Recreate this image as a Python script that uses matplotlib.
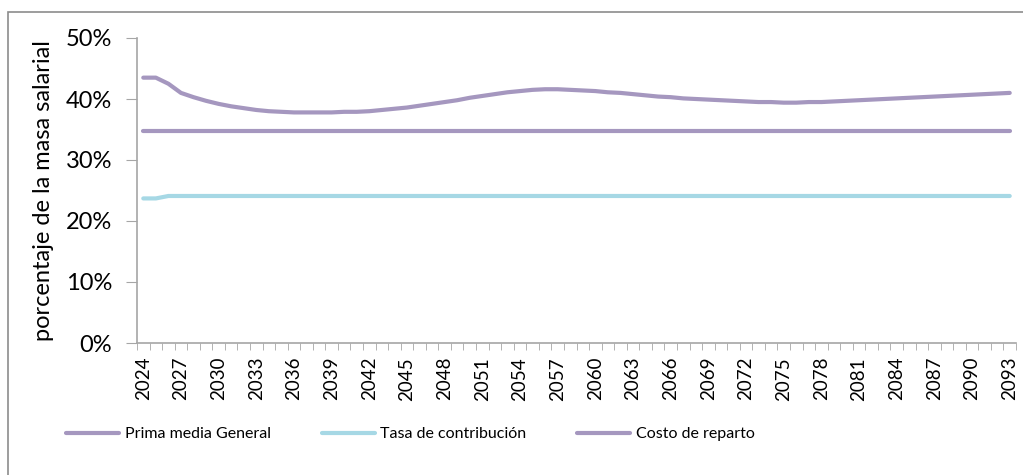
import numpy as np
import matplotlib.pyplot as plt
from matplotlib.patches import Rectangle

plt.rcParams['font.family'] = ['Lato', 'DejaVu Sans']

years = np.arange(2024, 2094)
prima_media = [34.7] * 70
tasa_contrib = [23.7, 23.7] + [24.1] * 68
costo_reparto = [43.5, 43.5, 42.5, 41.0, 40.3, 39.7, 39.2, 38.8, 38.5, 38.2,
                 38.0, 37.9, 37.8, 37.8, 37.8, 37.8, 37.9, 37.9, 38.0, 38.2,
                 38.4, 38.6, 38.9, 39.2, 39.5, 39.8, 40.2, 40.5, 40.8, 41.1,
                 41.3, 41.5, 41.6, 41.6, 41.5, 41.4, 41.3, 41.1, 41.0, 40.8,
                 40.6, 40.4, 40.3, 40.1, 40.0, 39.9, 39.8, 39.7, 39.6, 39.5,
                 39.5, 39.4, 39.4, 39.5, 39.5, 39.6, 39.7, 39.8, 39.9, 40.0,
                 40.1, 40.2, 40.3, 40.4, 40.5, 40.6, 40.7, 40.8, 40.9, 41.0]

purple = '#A597BF'
cyan = '#A6D8E5'
grey = '#A6A6A6'

fig = plt.figure(figsize=(10.23, 4.75), dpi=100)
# chart border
fig.patches.append(Rectangle((8 / 1023, -0.1), 1.2, 1 - 12 / 475 + 0.1,
                             transform=fig.transFigure, fill=False,
                             edgecolor='#8C8C8C', linewidth=1.2))

ax = fig.add_axes([137 / 1023, 1 - 343 / 475, 879 / 1023, 305 / 475])
x = np.arange(len(years))
ax.plot(x, np.array(prima_media) / 100, color=purple, lw=3.0,
        label='Prima media General', solid_capstyle='round')
ax.plot(x, np.array(tasa_contrib) / 100, color=cyan, lw=3.0,
        label='Tasa de contribución', solid_capstyle='round')
ax.plot(x, np.array(costo_reparto) / 100, color=purple, lw=3.0,
        label='Costo de reparto', solid_capstyle='round')

ax.set_xlim(-0.5, len(years) - 0.5)
ax.set_ylim(0, 0.5)
ax.set_yticks(np.arange(0, 0.51, 0.1))
ax.set_yticklabels([f'{int(round(v * 100))}%' for v in np.arange(0, 0.51, 0.1)],
                   fontsize=17)
ax.set_xticks(x[::3])
ax.set_xticklabels([str(y) for y in years[::3]], rotation=90, fontsize=13.5)
ax.set_xticks(np.arange(-0.5, len(years), 1), minor=True)
ax.tick_params(axis='x', which='major', length=0, pad=10)
ax.tick_params(axis='x', which='minor', length=5, color=grey, direction='out')
ax.tick_params(axis='y', length=8, color=grey, pad=10)

for s in ['top', 'right']:
    ax.spines[s].set_visible(False)
for s in ['left', 'bottom']:
    ax.spines[s].set_color(grey)
    ax.spines[s].set_linewidth(1.2)

ax.set_ylabel('porcentaje de la masa salarial', fontsize=17, labelpad=8)

leg = fig.legend(loc='center left', bbox_to_anchor=(60 / 1023, 1 - 434 / 475),
                 ncol=3, frameon=False, fontsize=11.5, handlelength=3.3,
                 handletextpad=0.35, columnspacing=3.2, borderaxespad=0)

fig.savefig('out.png', dpi=100)
